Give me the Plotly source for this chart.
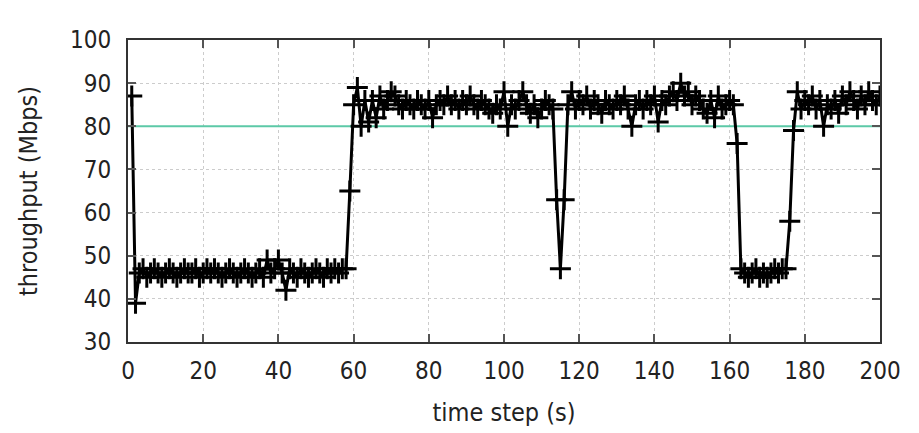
import plotly.graph_objects as go

time_s = list(range(1, 201))
throughput = [
    87, 39, 46, 47, 45, 46, 47, 46, 45, 46,
    47, 46, 45, 46, 47, 46, 46, 47, 45, 46,
    47, 46, 47, 46, 45, 46, 47, 46, 45, 46,
    47, 46, 45, 46, 47, 45, 49, 46, 47, 49,
    46, 42, 47, 46, 45, 47, 46, 45, 46, 47,
    46, 45, 47, 46, 47, 46, 47, 47, 65, 85,
    89, 80, 86, 81, 86, 82, 87, 84, 86, 88,
    87, 85, 84, 86, 85, 84, 86, 85, 84, 86,
    82, 85, 86, 85, 87, 85, 86, 84, 86, 85,
    87, 85, 84, 86, 85, 84, 83, 85, 84, 88,
    80, 85, 84, 86, 88, 85, 83, 85, 82, 84,
    86, 85, 84, 63, 47, 63, 85, 88, 84, 86,
    85, 87, 84, 86, 85, 83, 86, 85, 84, 86,
    85, 87, 84, 80, 85, 86, 84, 86, 85, 87,
    81, 86, 85, 87, 88, 86, 90, 87, 88, 85,
    87, 86, 84, 83, 86, 82, 87, 84, 85, 86,
    85, 76, 47, 46, 45, 46, 47, 45, 46, 45,
    46, 47, 46, 47, 47, 58, 79, 88, 84, 86,
    85, 87, 84, 86, 80, 85, 84, 86, 83, 87,
    85, 88, 86, 84, 87, 85, 88, 86, 85, 87,
]
target_x = [0, 200]
target_y = [80, 80]
x_ticks = [0, 20, 40, 60, 80, 100, 120, 140, 160, 180, 200]
y_ticks = [30, 40, 50, 60, 70, 80, 90, 100]

FONT = "DejaVu Sans Condensed, Liberation Sans, sans-serif"
TXT = "#222222"

fig = go.Figure()
fig.add_trace(go.Scatter(
    x=target_x, y=target_y, mode="lines",
    line=dict(color="#5cc9a7", width=2), showlegend=False,
))
fig.add_trace(go.Scatter(
    x=time_s, y=throughput, mode="lines+markers",
    line=dict(color="black", width=3),
    marker=dict(symbol="cross-thin", size=15, line=dict(color="black", width=3)),
    showlegend=False,
))

axis_common = dict(
    showline=True, linecolor="#333333", linewidth=2, mirror="allticks",
    ticks="inside", ticklen=8, tickwidth=1.5, tickcolor="#555555",
    showgrid=True, gridcolor="#cccccc", griddash="dot", gridwidth=1,
    zeroline=False,
    tickfont=dict(family=FONT, size=24, color=TXT),
)

fig.update_xaxes(range=[0, 200], tickvals=x_ticks, ticktext=[str(v) for v in x_ticks],
                 ticklabelstandoff=6,
                 title=dict(text="time step (s)", font=dict(family=FONT, size=25, color=TXT), standoff=20),
                 **axis_common)
fig.update_yaxes(range=[30, 100], tickvals=y_ticks, ticktext=[str(v) for v in y_ticks],
                 ticklabelstandoff=10,
                 title=dict(text="throughput (Mbps)", font=dict(family=FONT, size=25, color=TXT), standoff=25),
                 **axis_common)

fig.update_layout(
    width=919, height=433,
    margin=dict(l=128, r=39, t=40, b=91),
    plot_bgcolor="white", paper_bgcolor="white",
)

fig.write_html("out.html")
